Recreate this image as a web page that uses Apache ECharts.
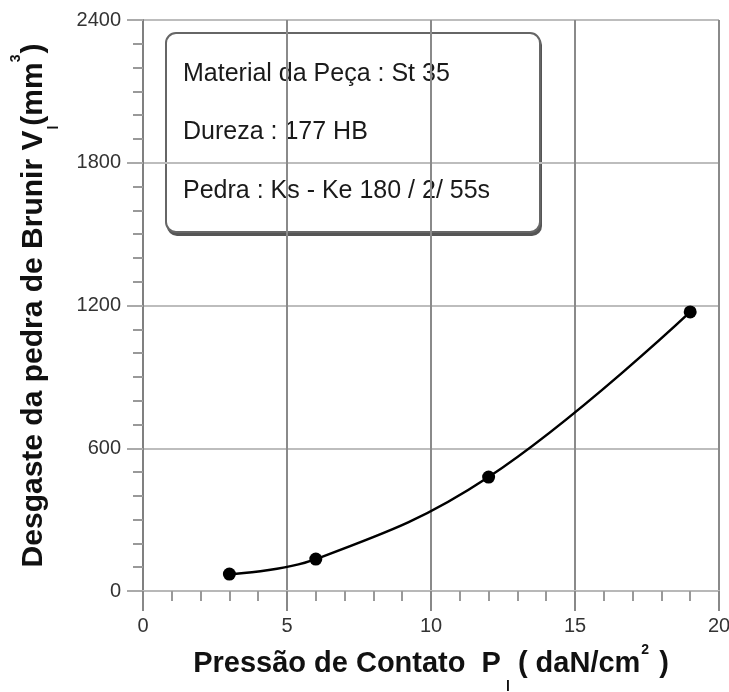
<!DOCTYPE html>
<html>
<head>
<meta charset="utf-8">
<script src="https://cdn.jsdelivr.net/npm/echarts@6/dist/echarts.min.js"></script>
<style>html,body{margin:0;padding:0;background:#fff}#c{width:729px;height:692px}</style>
</head>
<body>
<div id="c"></div>
<script>
// Data
const pressure = [3, 6, 12, 19];          // Pressão de Contato (daN/cm²)
const wear = [71, 134, 479, 1173];         // Desgaste Vi (mm³)
const xTicks = [0, 5, 10, 15, 20];
const yTicks = [0, 600, 1200, 1800, 2400];
const infoLines = ['Material da Peça : St 35', 'Dureza : 177 HB', 'Pedra : Ks - Ke 180 / 2/ 55s'];

const chart = echarts.init(document.getElementById('c'));
const font = '"Liberation Sans", Arial, sans-serif';
chart.setOption({
  animation: false,
  backgroundColor: '#fff',
  grid: { left: 143, right: 10, top: 20, bottom: 101, containLabel: false, outerBoundsMode: 'none' },
  xAxis: {
    type: 'value', min: xTicks[0], max: xTicks[xTicks.length - 1], interval: 5,
    axisLine: { lineStyle: { color: '#b8b8b8', width: 2 } },
    axisTick: { length: 20, lineStyle: { color: '#888', width: 2 } },
    minorTick: { show: true, splitNumber: 5, length: 10, lineStyle: { color: '#999', width: 2 } },
    splitLine: { show: true, lineStyle: { color: '#8a8a8a', width: 2 } },
    axisLabel: { margin: 25, fontFamily: font, fontSize: 20, color: '#333', formatter: v => String(v) },
    name: '{b|Pressão de Contato  P}{sub|l}{b| ( daN/cm}{sup|2}{b| )}',
    nameLocation: 'middle', nameGap: 42,
    nameTextStyle: {
      rich: {
        b: { fontFamily: font, fontWeight: 'bold', fontSize: 29, color: '#111' },
        sub: { fontFamily: font, fontWeight: 'bold', fontSize: 14, color: '#111', padding: [47, 0, 0, 5] },
        sup: { fontFamily: font, fontWeight: 'bold', fontSize: 14, color: '#111', padding: [0, 2, 27, 1] }
      }
    }
  },
  yAxis: {
    type: 'value', min: yTicks[0], max: yTicks[yTicks.length - 1], interval: 600,
    axisLine: { show: true, lineStyle: { color: '#808080', width: 2 } },
    axisTick: { show: true, length: 16, lineStyle: { color: '#aaa', width: 2 } },
    minorTick: { show: true, splitNumber: 6, length: 10, lineStyle: { color: '#999', width: 2 } },
    splitLine: { show: true, lineStyle: { color: '#bdbdbd', width: 2 } },
    axisLabel: { margin: 22, fontFamily: font, fontSize: 20, color: '#333', formatter: v => String(v) },
    name: '{b|Desgaste da pedra de Brunir V}{sub|l}{b|(mm}{sup|3}{b|)}',
    nameLocation: 'middle', nameGap: 82, nameRotate: 90,
    nameTextStyle: {
      rich: {
        b: { fontFamily: font, fontWeight: 'bold', fontSize: 30, color: '#111' },
        sub: { fontFamily: font, fontWeight: 'bold', fontSize: 14, color: '#111', padding: [40, 0, 0, 1] },
        sup: { fontFamily: font, fontWeight: 'bold', fontSize: 14, color: '#111', padding: [0, 1, 35, 0] }
      }
    }
  },
  graphic: [{
    type: 'group', left: 165, top: 32, z: 100,
    children: [
      { type: 'rect', shape: { x: 1, y: 2, width: 375, height: 201, r: 10 },
        style: { fill: '#555', stroke: null } },
      { type: 'rect', shape: { x: 0, y: 0, width: 374, height: 199, r: 10 },
        style: { fill: '#fff', stroke: '#666', lineWidth: 2 } },
      { type: 'text', x: 17, y: 41, style: { text: infoLines[0], font: '25px ' + font, fill: '#1a1a1a', verticalAlign: 'middle' } },
      { type: 'text', x: 17, y: 99, style: { text: infoLines[1], font: '25px ' + font, fill: '#1a1a1a', verticalAlign: 'middle' } },
      { type: 'text', x: 17, y: 158, style: { text: infoLines[2], font: '25px ' + font, fill: '#1a1a1a', verticalAlign: 'middle' } }
    ]
  }],
  series: [{
    type: 'line',
    data: pressure.map((p, i) => [p, wear[i]]),
    smooth: 0.4,
    symbol: 'circle', symbolSize: 13,
    itemStyle: { color: '#000' },
    lineStyle: { color: '#000', width: 2.5 },
    z: 10
  }]
});
</script>
</body>
</html>
